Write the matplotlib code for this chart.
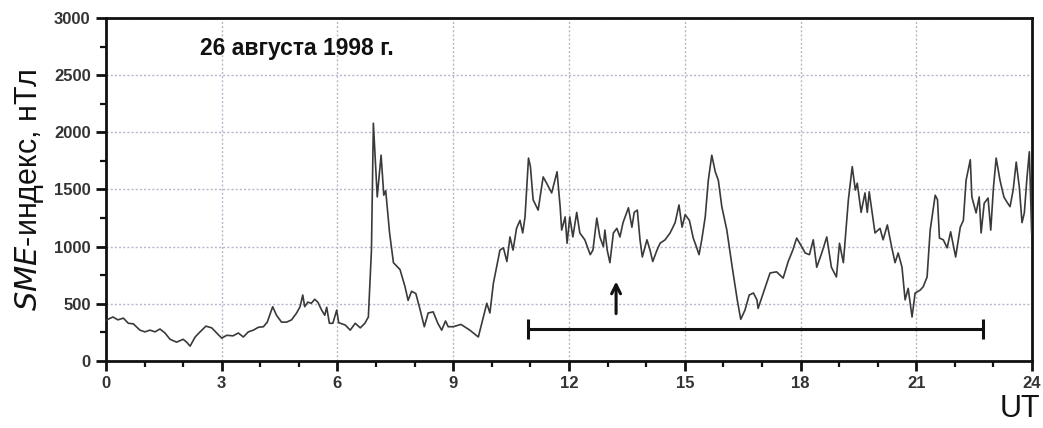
import numpy as np
import matplotlib
matplotlib.use("Agg")
import matplotlib.pyplot as plt
from matplotlib.ticker import MultipleLocator

# SME index, 26 Aug 1998
ut_hours = [
    0.02, 0.18, 0.31, 0.45, 0.58, 0.71, 0.88, 1.01, 1.14, 1.27, 1.40, 1.53, 1.66, 1.83,
    2.00, 2.09, 2.18, 2.31, 2.44, 2.59, 2.74, 2.87, 3.00, 3.13, 3.29, 3.43, 3.56, 3.69,
    3.82, 3.95, 4.08, 4.18, 4.32, 4.42, 4.55, 4.68, 4.81, 4.94, 5.03, 5.10, 5.15, 5.23,
    5.32, 5.41, 5.49, 5.59, 5.67, 5.72, 5.79, 5.88, 5.98, 6.03, 6.20, 6.33, 6.46, 6.59,
    6.71, 6.80, 6.88, 6.93, 7.03, 7.13, 7.20, 7.25, 7.35, 7.45, 7.62, 7.75, 7.83, 7.92,
    8.03, 8.14, 8.25, 8.35, 8.48, 8.60, 8.70, 8.80, 8.87, 9.00, 9.20, 9.43, 9.65, 9.87,
    9.95, 10.04, 10.21, 10.30, 10.39, 10.47, 10.55, 10.64, 10.73, 10.80, 10.86, 10.95,
    11.00, 11.07, 11.20, 11.33, 11.42, 11.55, 11.69, 11.77, 11.81, 11.90, 11.95, 12.02,
    12.10, 12.20, 12.28, 12.41, 12.55, 12.62, 12.72, 12.80, 12.89, 12.93, 12.99, 13.06,
    13.15, 13.24, 13.32, 13.40, 13.54, 13.63, 13.69, 13.77, 13.84, 13.90, 14.02, 14.10,
    14.17, 14.28, 14.36, 14.49, 14.62, 14.75, 14.85, 14.93, 15.01, 15.12, 15.22, 15.30,
    15.37, 15.44, 15.53, 15.61, 15.70, 15.79, 15.87, 15.96, 16.09, 16.23, 16.36, 16.45,
    16.56, 16.67, 16.78, 16.87, 16.90, 17.03, 17.21, 17.38, 17.55, 17.68, 17.80, 17.90,
    18.03, 18.12, 18.23, 18.33, 18.42, 18.55, 18.68, 18.80, 18.93, 19.01, 19.11, 19.24,
    19.34, 19.42, 19.47, 19.57, 19.67, 19.73, 19.78, 19.93, 20.06, 20.14, 20.25, 20.36,
    20.45, 20.53, 20.63, 20.71, 20.79, 20.89, 20.97, 21.10, 21.18, 21.28, 21.36, 21.49,
    21.55, 21.60, 21.70, 21.80, 21.89, 22.02, 22.14, 22.22, 22.29, 22.40, 22.44, 22.55,
    22.63, 22.68, 22.76, 22.86, 22.93, 23.00, 23.07, 23.17, 23.27, 23.35, 23.43, 23.51,
    23.59, 23.67, 23.74, 23.80, 23.87, 23.93, 23.99,
]
sme_values = [
    360, 385, 360, 375, 330, 325, 270, 255, 270, 255, 280, 245, 190, 165,
    190, 165, 130, 210, 255, 305, 290, 245, 200, 225, 220, 245, 210, 255,
    270, 295, 300, 340, 475, 400, 340, 340, 360, 420, 475, 577, 475, 515,
    505, 540, 515, 445, 400, 470, 330, 330, 445, 335, 315, 270, 330, 290,
    330, 385, 970, 2080, 1435, 1800, 1450, 1490, 1120, 860, 800, 650, 530, 610,
    590, 450, 300, 420, 430, 330, 270, 350, 300, 300, 320, 270, 210, 505,
    420, 680, 970, 990, 870, 1085, 970, 1160, 1230, 1120, 1260, 1775,
    1700, 1410, 1320, 1610, 1555, 1470, 1655, 1350, 1145, 1260, 1030, 1260,
    1085, 1300, 1120, 1060, 930, 970, 1250, 1085, 1000, 1145, 970, 860,
    1120, 1160, 1085, 1210, 1340, 1170, 1300, 1320, 1060, 910, 1060, 970,
    870, 970, 1030, 1060, 1120, 1210, 1365, 1170, 1280, 1230, 1075, 1000,
    930, 1060, 1260, 1580, 1800, 1655, 1580, 1350, 1145, 820, 535, 365,
    445, 577, 595, 535, 460, 590, 770, 780, 725, 870, 970, 1075,
    1000, 945, 930, 1060, 820, 945, 1085, 820, 735, 1030, 860, 1410,
    1700, 1495, 1555, 1300, 1470, 1300, 1480, 1120, 1160, 1060, 1190, 1000,
    860, 945, 820, 535, 635, 385, 595, 620, 650, 735, 1145, 1450,
    1410, 1075, 1060, 990, 1130, 910, 1170, 1230, 1580, 1760, 1435, 1295,
    1435, 1120, 1380, 1425, 1145, 1520, 1775, 1580, 1435, 1390, 1350, 1495,
    1740, 1520, 1210, 1295, 1610, 1830, 1120,
]

arrow_ut = 13.22
arrow_from, arrow_to = 390, 720
bar_start, bar_end, bar_level = 10.95, 22.73, 280

fig = plt.figure(figsize=(10.43, 4.28), dpi=100)
ax = fig.add_axes([0.1016, 0.1565, 0.8879, 0.8015])

ax.plot(ut_hours, sme_values, color='#3a3a3a', lw=1.2, zorder=3)

ax.set_xlim(0, 24)
ax.set_ylim(0, 3000)
ax.xaxis.set_major_locator(MultipleLocator(3))
ax.xaxis.set_minor_locator(MultipleLocator(1))
ax.yaxis.set_major_locator(MultipleLocator(500))
ax.yaxis.set_minor_locator(MultipleLocator(250))

ax.grid(True, which='major', color='#b4b8c8', lw=1.0, linestyle=(0, (1.5, 1.5)), zorder=1)

for s in ax.spines.values():
    s.set_linewidth(2.0)
    s.set_color('#111111')

ax.tick_params(which='major', direction='out', length=7, width=2, color='#111111',
               labelsize=12, labelcolor='#333333', pad=4)
ax.tick_params(which='minor', direction='out', length=4, width=1.6, color='#111111')
for lab in ax.get_xticklabels() + ax.get_yticklabels():
    lab.set_fontweight('bold')
    lab.set_family('Liberation Sans')

# arrow and interval bar
ax.annotate('', xy=(arrow_ut, arrow_to), xytext=(arrow_ut, arrow_from),
            arrowprops=dict(arrowstyle='->', lw=2.2, color='#111111',
                            mutation_scale=16), zorder=4)
ax.errorbar([(bar_start + bar_end) / 2], [bar_level],
            xerr=[[(bar_end - bar_start) / 2], [(bar_end - bar_start) / 2]],
            fmt='none', ecolor='#111111', elinewidth=2.2, capsize=7, capthick=2.2,
            zorder=4)

ax.text(2.44, 2730, '26 августа 1998 г.', fontsize=16.5, fontweight='bold',
        family='Liberation Sans', color='#111111', va='center', ha='left')

ax.set_ylabel('$\\mathit{SME}$-индекс, нТл', fontsize=22, family='Liberation Sans',
              labelpad=6, color='#111111')
fig.text(0.997, 0.01, 'UT', fontsize=22, family='Liberation Sans', ha='right',
         va='bottom', color='#111111')

fig.savefig('out.png', dpi=100)
